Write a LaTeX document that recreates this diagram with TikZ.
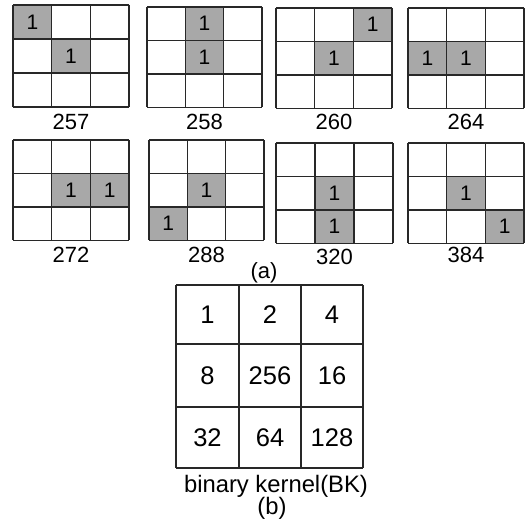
\documentclass[tikz,border=0pt]{standalone}
\usepackage{fontspec}
\setmainfont{Liberation Sans}
\definecolor{cellgray}{RGB}{168,168,168}
\definecolor{linegray}{RGB}{40,40,40}
\tikzset{
  cellfill/.style={fill=cellgray},
  gridline/.style={draw=linegray, line width=1.4pt},
  num/.style={inner sep=0pt, font=\fontsize{21}{24}\selectfont},
  lab/.style={inner sep=0pt, font=\fontsize{22}{26}\selectfont},
  bnum/.style={inner sep=0pt, font=\fontsize{25.5}{29}\selectfont},
  blab/.style={inner sep=0pt, font=\fontsize{23.8}{28}\selectfont},
}
% #1 name, #2 x0, #3 y0, #4 cell w, #5 cell h, #6 shaded cells c/r, #7 label, #8 label y
\newcommand\kgrid[8]{%
  \foreach \c/\r [count=\k] in {#6} {
    \fill[cellfill] ({#2+\c*#4},{#3+\r*#5}) rectangle ++(#4,#5);
    \node[num] (#1-one\k) at ({#2+\c*#4+#4/2},{#3+\r*#5+#5/2}) {1};
  }
  \foreach \i in {0,1,2,3} {
    \draw[gridline] ({#2+\i*#4},#3) -- ++(0,{3*#5});
    \draw[gridline] (#2,{#3+\i*#5}) -- ++({3*#4},0);
  }
  \node[lab] (#1-lab) at ({#2+1.5*#4},#8) {#7};
}
\begin{document}
\begin{tikzpicture}[x=1pt,y=-1pt]
\useasboundingbox (0,0) rectangle (525,527);
\fill[white] (0,0) rectangle (525,527);
\kgrid{g257}{13}{5}{38.7}{34}{0/0,1/1}{257}{122}
\kgrid{g258}{147}{7}{38.3}{33.4}{1/0,1/1}{258}{122}
\kgrid{g260}{276}{8}{38.7}{33.4}{2/0,1/1}{260}{122}
\kgrid{g264}{408}{8}{38.7}{33.4}{0/1,1/1}{264}{122}
\kgrid{g272}{13}{140}{38.7}{33.4}{1/1,2/1}{272}{255}
\kgrid{g288}{149}{140}{38.3}{33.4}{1/1,0/2}{288}{255}
\kgrid{g320}{276}{143}{39}{33.4}{1/1,1/2}{320}{257}
\kgrid{g384}{408}{143}{38.7}{33.4}{1/1,2/2}{384}{255}
\node[lab] (capa) at (264,273) {(a)};
% binary kernel
\foreach \i/\xx in {0/176,1/239,2/301,3/363} {
  \draw[gridline] (\xx,285) -- (\xx,468);
}
\foreach \j/\yy in {0/285,1/344,2/407,3/468} {
  \draw[gridline] (176,\yy) -- (363,\yy);
}
\node[bnum] (b1) at (207.5,314.5) {1};
\node[bnum] (b2) at (270,314.5) {2};
\node[bnum] (b4) at (332,314.5) {4};
\node[bnum] (b8) at (207.5,375.5) {8};
\node[bnum] (b256) at (270,375.5) {256};
\node[bnum] (b16) at (332,375.5) {16};
\node[bnum] (b32) at (207.5,437.5) {32};
\node[bnum] (b64) at (270,437.5) {64};
\node[bnum] (b128) at (332,437.5) {128};
\node[blab] (bk) at (276,486) {binary kernel(BK)};
\node[blab] (capb) at (272,508) {(b)};
\end{tikzpicture}
\end{document}
